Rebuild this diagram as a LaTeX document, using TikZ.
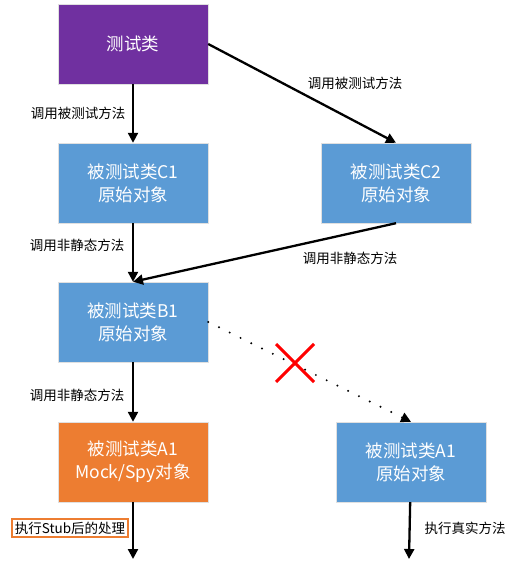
\documentclass[tikz,border=0pt]{standalone}
\usepackage{fontspec}
\setmainfont{Noto Sans CJK SC}
\usetikzlibrary{arrows.meta}
\definecolor{boxblue}{HTML}{5B9BD5}
\definecolor{boxpurple}{HTML}{7030A0}
\definecolor{boxorange}{HTML}{ED7D31}

\begin{document}
\begin{tikzpicture}[
  x=1pt,y=-1pt,
  box/.style={draw=black!12,minimum width=150pt,minimum height=80pt,align=center,
              text=white,font=\fontsize{17.5}{23}\selectfont},
  bluebox/.style={box,fill=boxblue},
  arrow/.style={-{Triangle[length=10pt,width=10pt]},line width=2.3pt},
  lbl/.style={font=\fontsize{13.5}{15}\selectfont}
]
\useasboundingbox (0,0) rectangle (519,561);
\node[box,fill=boxpurple] (test) at (133,44) {测试类};
\node[bluebox] (c1) at (133,183) {被测试类C1\\原始对象};
\node[bluebox] (c2) at (396,183) {被测试类C2\\原始对象};
\node[bluebox] (b1) at (133,322) {被测试类B1\\原始对象};
\node[box,fill=boxorange] (a1) at (133,462) {被测试类A1\\Mock/Spy对象};
\node[bluebox] (ra1) at (411,462) {被测试类A1\\原始对象};
\coordinate (enda) at (133,559);
\coordinate (endr) at (409,559);
% labels
\node[lbl] (l1) at (78,113) {调用被测试方法};
\node[lbl] (l2) at (355,83) {调用被测试方法};
\node[lbl] (l3) at (77,245) {调用非静态方法};
\node[lbl] (l4) at (350,258) {调用非静态方法};
\node[lbl] (l5) at (77,395) {调用非静态方法};
\node[lbl,draw=boxorange,line width=1.8pt,inner sep=3pt,fill=white] (stub) at (70,528) {执行Stub后的处理};
\node[lbl] (real) at (465,528) {执行真实方法};
% connectors
\draw[arrow] (test)--(c1);
\draw[arrow] (test.east)--(c2.north);
\draw[arrow] (c1)--(b1);
\draw[arrow] (c2.south)--(b1.north);
\draw[arrow] (b1)--(a1);
\draw[-{Triangle[length=10pt,width=10pt]},line width=2.2pt,line cap=round,
      dash pattern=on 0pt off 12pt] (b1.east)--(ra1.north);
\draw[arrow] (a1)--(enda);
\draw[arrow] (ra1)--(endr);
% cross
\draw[red,line width=3pt] (276,344)--(314,382) (276,382)--(314,344);
\end{tikzpicture}
\end{document}
